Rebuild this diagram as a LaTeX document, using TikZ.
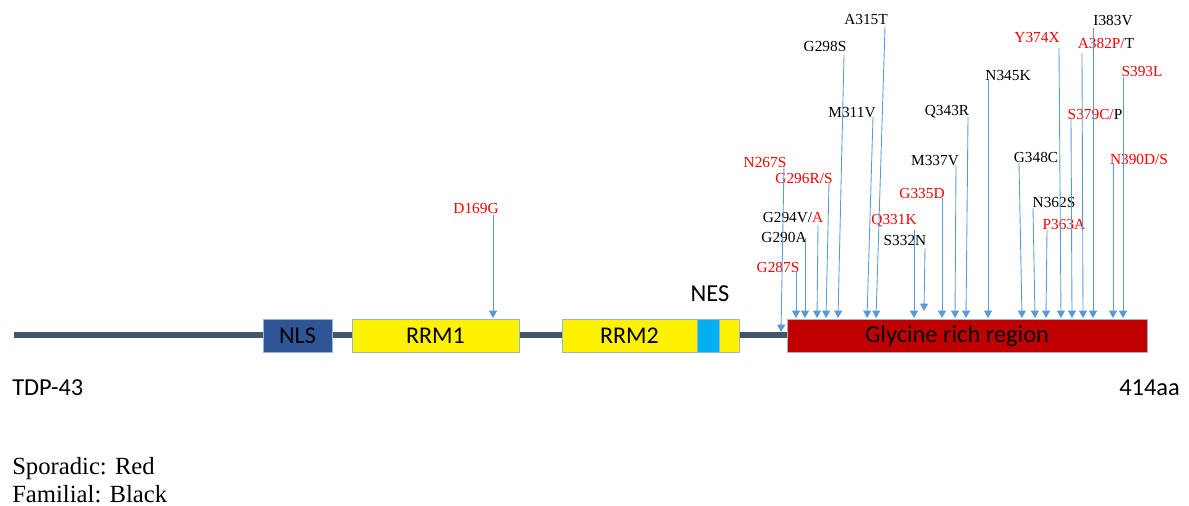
\documentclass[tikz,border=0pt]{standalone}
\usepackage{fontspec}
\setmainfont{Liberation Serif}
\newfontfamily\calfont{Carlito}
\usetikzlibrary{arrows.meta}
\definecolor{backbonecol}{HTML}{44546A}
\definecolor{nlsblue}{HTML}{2F5597}
\definecolor{nescyan}{HTML}{00B0F0}
\definecolor{glyred}{HTML}{C00000}
\definecolor{boxborder}{HTML}{9DB3D0}
\definecolor{arrowblue}{HTML}{5B9BD5}
\definecolor{mutred}{HTML}{FF0000}
\tikzset{
  dom/.style={draw=boxborder, line width=0.6pt, minimum height=24.75pt, inner sep=0pt, font=\calfont\fontsize{18}{20}\selectfont},
  domtext/.style={inner sep=0pt, font=\calfont\fontsize{18.3}{20}\selectfont},
  lab/.style={inner sep=0pt, font=\fontsize{11.5}{13}\selectfont},
  redlab/.style={lab, text=mutred},
  mut/.style={draw=arrowblue, line width=0.65pt, -{Triangle[width=6pt,length=5.5pt]}},
  legend/.style={inner sep=0pt, anchor=base west, font=\rmfamily\fontsize{18.5}{21}\selectfont}
}
\begin{document}
\begin{tikzpicture}[x=0.75pt,y=-0.75pt]
\useasboundingbox (0,0) rectangle (1189,506);
% backbone
\coordinate (bbstart) at (14,335);
\coordinate (bbend) at (790,335);
\draw[backbonecol, line width=4.5pt] (bbstart) -- (bbend);
% domains
\node[dom, fill=glyred, minimum width=270pt] (glyc) at (967,335.5) {};
\node[domtext] (glytext) at (957,336) {Glycine rich region};
\node[dom, fill=nlsblue, minimum width=51.75pt] (nls) at (297.5,335.5) {NLS};
\node[dom, fill=yellow, minimum width=125.25pt] (rrm1) at (435.5,335.5) {RRM1};
\node[dom, fill=yellow, minimum width=101.25pt] (rrm2) at (629.5,335.5) {RRM2};
\node[dom, fill=nescyan, minimum width=16.5pt] (nesbox) at (708,335.5) {};
\node[dom, fill=yellow, minimum width=15pt] (rrm2b) at (729,335.5) {};
\node[domtext] (nes) at (710,294) {NES};
% side labels
\node[domtext, anchor=base west] (tdp) at (12,395) {TDP-43};
\node[domtext, anchor=base east] (aa) at (1180,395) {414aa};
\node[legend] (spor) at (12,474) {Sporadic: Red};
\node[legend] (fam) at (12,502) {Familial: Black};
% mutation labels
\node[redlab] (d169g) at (476,208) {D169G};
\node[redlab] (n267s) at (765,162) {N267S};
\node[redlab] (g296) at (804,178) {G296R/S};
\node[lab] (g294) at (793,218) {G294V/\textcolor{mutred}{A}};
\node[lab] (g290) at (784,237) {G290A};
\node[redlab] (g287) at (778,267) {G287S};
\node[lab] (g298) at (825,46) {G298S};
\node[lab] (a315) at (866,20) {A315T};
\node[lab] (m311) at (852,113) {M311V};
\node[lab] (q343) at (947,112) {Q343R};
\node[lab] (m337) at (935,161) {M337V};
\node[redlab] (g335) at (922,193) {G335D};
\node[redlab] (q331) at (894,221) {Q331K};
\node[lab] (s332) at (905,240) {S332N};
\node[lab] (n345) at (1008,76) {N345K};
\node[lab] (g348) at (1036,157) {G348C};
\node[lab] (n362) at (1054,202) {N362S};
\node[redlab] (p363) at (1064,224) {P363A};
\node[redlab] (y374) at (1037,38) {Y374X};
\node[lab] (a382) at (1106,43) {\textcolor{mutred}{A382P/}T};
\node[lab] (i383) at (1113,21) {I383V};
\node[redlab] (s393) at (1142,72) {S393L};
\node[lab] (s379) at (1095,114) {\textcolor{mutred}{S379C/}P};
\node[redlab] (n390) at (1139,159) {N390D/S};
% arrows
\foreach \n/\xa/\ya/\xb/\yb in {
  169/493/215/493/318,
  267/784/165/781/332,
  287/796/272/796/318,
  290/805/238/805/318,
  294/818/225/817/318,
  296/829/183/826/318,
  298/844/55/838/318,
  311/873/117/867/318,
  315/885/27/876/318,
  331/914/230/914/318,
  332/925/248/924/311,
  335/942/198/942/318,
  337/956/165/955/318,
  343/968/117/966/318,
  345/988/80/988/318,
  348/1019/163/1022/318,
  362/1033/208/1035/318,
  363/1047/230/1046/318,
  374/1059/48/1061/318,
  379/1071/117/1072/318,
  382/1082/53/1083/318,
  383/1093/28/1093/318,
  390/1113/163/1113/318,
  393/1123/77/1123/318}{
  \coordinate (s\n) at (\xa,\ya);
  \coordinate (e\n) at (\xb,\yb);
  \draw[mut] (s\n) -- (e\n);
}
\end{tikzpicture}
\end{document}
